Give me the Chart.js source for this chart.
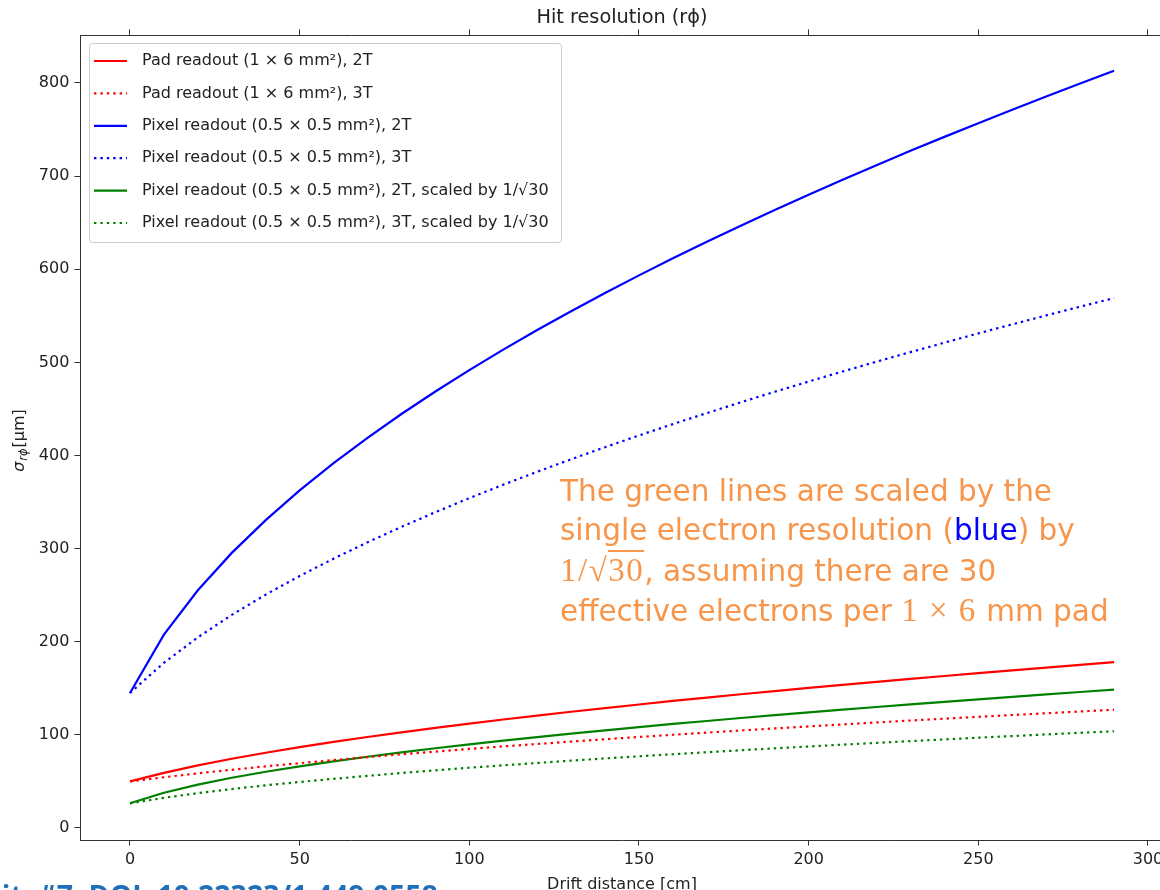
<!DOCTYPE html>
<html>
<head>
<meta charset="utf-8">
<title>Hit resolution</title>
<script src="https://cdn.jsdelivr.net/npm/chart.js@4.4.1/dist/chart.umd.min.js"></script>
<style>
    html, body { margin: 0; padding: 0; background: #ffffff; overflow: hidden; }
    #wrap { position: relative; width: 1164px; height: 900px; }
    #nota {
        position: absolute; left: 560px; top: 472px;
        font-family: 'DejaVu Sans', sans-serif;
        font-size: 29.5px; line-height: 39.3px; color: #f7964a;
        white-space: nowrap;
    }
    #nota .math { font-family: 'Liberation Serif', 'DejaVu Serif', serif; font-size: 33px; letter-spacing: 1.5px; }
    #nota .raiz { border-top: 2px solid #f7964a; }
    #nota .azul { color: #0000ff; }
    #fonte {
        position: absolute; left: -7px; top: 881px;
        font-family: 'Open Sans', sans-serif; font-weight: bold;
        font-size: 28.5px; line-height: 29px; color: #1f70b8; white-space: nowrap;
    }
</style>
</head>
<body>
<div id="wrap">
    <canvas id="grafico" width="1164" height="900"></canvas>
    <div id="nota">
        The green lines are scaled by the<br>
        single electron resolution (<span class="azul">blue</span>) by<br>
        <span class="math">1/√<span class="raiz">30</span></span>, assuming there are 30<br>
        effective electrons per <span class="math">1 × 6</span> mm pad
    </div>
    <div id="fonte">lit: #7, DOI: 10.22323/1.449.0558</div>
</div>
<script>
// Distância de deriva (cm)
const distancia = [0, 10, 20, 30, 40, 50, 60, 70, 80, 90, 100, 110, 120, 130, 140,
    150, 160, 170, 180, 190, 200, 210, 220, 230, 240, 250, 260, 270, 280, 290];

// Resolução (µm)
const pad2T = [50.0, 59.2, 67.2, 74.3, 80.8, 86.8, 92.4, 97.7, 102.7, 107.5, 112.1, 116.5, 120.7, 124.8, 128.8,
    132.6, 136.4, 140.0, 143.6, 147.0, 150.4, 153.7, 156.9, 160.1, 163.2, 166.3, 169.3, 172.2, 175.1, 178.0];
const pad3T = [50.0, 54.5, 58.7, 62.5, 66.2, 69.6, 72.9, 76.1, 79.1, 82.0, 84.9, 87.6, 90.2, 92.8, 95.3,
    97.7, 100.1, 102.4, 104.7, 106.9, 109.1, 111.2, 113.3, 115.4, 117.4, 119.4, 121.3, 123.2, 125.1, 127.0];
const pixel2T = [145.0, 207.6, 255.3, 295.4, 330.6, 362.5, 391.7, 418.9, 444.5, 468.7, 491.7, 513.6, 534.7, 554.9, 574.5,
    593.4, 611.7, 629.5, 646.8, 663.6, 680.0, 696.1, 711.7, 727.1, 742.1, 756.8, 771.3, 785.4, 799.4, 813.1];
const pixel3T = [145.0, 177.4, 204.7, 228.8, 250.6, 270.6, 289.2, 306.8, 323.3, 339.1, 354.2, 368.6, 382.5, 395.9, 408.9,
    421.5, 433.7, 445.5, 457.1, 468.4, 479.4, 490.2, 500.7, 511.0, 521.1, 531.1, 540.8, 550.4, 559.8, 569.0];
const pixel2Tscaled = [26.5, 37.9, 46.6, 53.9, 60.4, 66.2, 71.5, 76.5, 81.2, 85.6, 89.8, 93.8, 97.6, 101.3, 104.9,
    108.3, 111.7, 114.9, 118.1, 121.2, 124.2, 127.1, 129.9, 132.8, 135.5, 138.2, 140.8, 143.4, 146.0, 148.5];
const pixel3Tscaled = [26.5, 32.4, 37.4, 41.8, 45.8, 49.4, 52.8, 56.0, 59.0, 61.9, 64.7, 67.3, 69.8, 72.3, 74.7,
    77.0, 79.2, 81.3, 83.5, 85.5, 87.5, 89.5, 91.4, 93.3, 95.1, 97.0, 98.7, 100.5, 102.2, 103.9];

const rotulos = [
    'Pad readout (1 × 6 mm²), 2T',
    'Pad readout (1 × 6 mm²), 3T',
    'Pixel readout (0.5 × 0.5 mm²), 2T',
    'Pixel readout (0.5 × 0.5 mm²), 3T',
    'Pixel readout (0.5 × 0.5 mm²), 2T, scaled by 1/√30',
    'Pixel readout (0.5 × 0.5 mm²), 3T, scaled by 1/√30'
];

const xTicks = [0, 50, 100, 150, 200, 250, 300];
const yTicks = [0, 100, 200, 300, 400, 500, 600, 700, 800];

const fonte = 'DejaVu Sans';
const pontilhado = [2.4, 4.0];

function serie(label, valores, cor, tracejado) {
    return {
        label: label,
        data: distancia.map((x, i) => ({ x: x, y: valores[i] })),
        borderColor: cor,
        backgroundColor: cor,
        borderWidth: 2.2,
        borderDash: tracejado,
        borderCapStyle: 'butt',
        pointRadius: 0,
        tension: 0,
        fill: false
    };
}

// Título, rótulo do eixo y e legenda desenhados à mão, no estilo do matplotlib
const textosPlugin = {
    id: 'textosMpl',
    afterDatasetsDraw(chart) {
        const ctx = chart.ctx;
        const area = chart.chartArea;
        const escalaX = chart.scales.x;
        ctx.save();

        // título
        ctx.fillStyle = '#222222';
        ctx.font = '19.3px "' + fonte + '"';
        ctx.textAlign = 'center';
        ctx.textBaseline = 'middle';
        const meio = escalaX.getPixelForValue((escalaX.min + escalaX.max) / 2);
        ctx.fillText('Hit resolution (rϕ)', meio, 18);

        // rótulo do eixo y: σ_rϕ [μm]
        const partes = [
            { t: 'σ', f: 'italic 16px "' + fonte + '"', dy: 0 },
            { t: 'rϕ', f: 'italic 11.5px "' + fonte + '"', dy: 3.5 },
            { t: '[μm]', f: '16px "' + fonte + '"', dy: 0 }
        ];
        let total = 0;
        partes.forEach(p => { ctx.font = p.f; p.w = ctx.measureText(p.t).width; total += p.w + 1; });
        ctx.translate(18, 440);
        ctx.rotate(-Math.PI / 2);
        ctx.textAlign = 'left';
        ctx.textBaseline = 'alphabetic';
        let px = -total / 2;
        partes.forEach(p => {
            ctx.font = p.f;
            ctx.fillText(p.t, px, 5.5 + p.dy);
            px += p.w + 1;
        });
        ctx.setTransform(1, 0, 0, 1, 0, 0);

        // legenda
        const bx = area.left + 9, by = area.top + 8, bw = 472, bh = 199;
        ctx.fillStyle = 'rgba(255,255,255,0.85)';
        ctx.strokeStyle = '#cccccc';
        ctx.lineWidth = 1;
        ctx.beginPath();
        ctx.roundRect(bx + 0.5, by + 0.5, bw, bh, 3);
        ctx.fill();
        ctx.stroke();
        chart.data.datasets.forEach((ds, i) => {
            const y = by + 18 + i * 32.4;
            ctx.strokeStyle = ds.borderColor;
            ctx.lineWidth = ds.borderWidth;
            ctx.lineCap = 'butt';
            ctx.setLineDash(ds.borderDash || []);
            ctx.beginPath();
            ctx.moveTo(bx + 5, y);
            ctx.lineTo(bx + 38, y);
            ctx.stroke();
            ctx.setLineDash([]);
            ctx.fillStyle = '#222222';
            ctx.font = '16px "' + fonte + '"';
            ctx.textBaseline = 'middle';
            ctx.textAlign = 'left';
            ctx.fillText(ds.label, bx + 53, y);
        });
        ctx.restore();
    }
};

function semPadding(s) {
    s.paddingLeft = 0;
    s.paddingRight = 0;
    s.paddingTop = 0;
    s.paddingBottom = 0;
}

document.addEventListener('DOMContentLoaded', () => {
    const ctx = document.getElementById('grafico').getContext('2d');

    const eixoComum = {
        grid: { drawOnChartArea: false, drawTicks: true, tickLength: 5.6, tickColor: '#333333', tickWidth: 1 },
        border: { color: '#333333', width: 1 }
    };

    new Chart(ctx, {
        type: 'line',
        data: {
            datasets: [
                serie(rotulos[0], pad2T, '#ff0000', []),
                serie(rotulos[1], pad3T, '#ff0000', pontilhado),
                serie(rotulos[2], pixel2T, '#0000ff', []),
                serie(rotulos[3], pixel3T, '#0000ff', pontilhado),
                serie(rotulos[4], pixel2Tscaled, '#008000', []),
                serie(rotulos[5], pixel3Tscaled, '#008000', pontilhado)
            ]
        },
        options: {
            responsive: false,
            animation: false,
            layout: { padding: { top: 30, left: 0, right: 0, bottom: 0 } },
            plugins: {
                legend: { display: false },
                tooltip: { enabled: false },
                title: { display: false }
            },
            scales: {
                x: {
                    ...eixoComum,
                    type: 'linear',
                    position: 'bottom',
                    min: -14.73,
                    max: 304.72,
                    afterBuildTicks: s => { s.ticks = xTicks.map(v => ({ value: v })); },
                    afterFit: s => { s.height = 60; semPadding(s); },
                    ticks: { color: '#222222', padding: 5, maxRotation: 0, font: { family: fonte, size: 16 } },
                    title: {
                        display: true, text: 'Drift distance [cm]', color: '#222222',
                        font: { family: fonte, size: 16 }, padding: { top: 0, bottom: 5.4 }
                    }
                },
                xTopo: {
                    ...eixoComum,
                    type: 'linear',
                    position: 'top',
                    min: -14.73,
                    max: 304.72,
                    afterBuildTicks: s => { s.ticks = xTicks.map(v => ({ value: v })); },
                    afterFit: s => { s.height = 5; semPadding(s); },
                    ticks: { display: false }
                },
                y: {
                    ...eixoComum,
                    type: 'linear',
                    position: 'left',
                    min: -12.9,
                    max: 851.5,
                    afterBuildTicks: s => { s.ticks = yTicks.map(v => ({ value: v })); },
                    afterFit: s => { s.width = 80; semPadding(s); },
                    ticks: { color: '#222222', padding: 5, font: { family: fonte, size: 16 } }
                }
            }
        },
        plugins: [textosPlugin]
    });
});
</script>
</body>
</html>
